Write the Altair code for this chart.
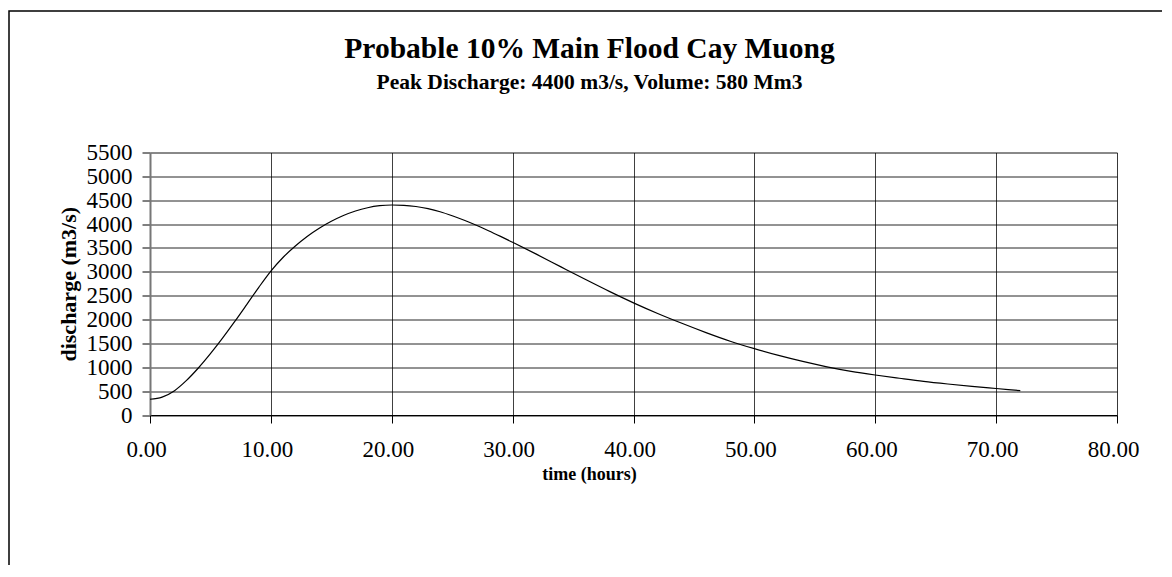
import altair as alt
import pandas as pd

hours = [0, 1, 2, 3, 4, 5, 6, 7, 8, 9, 10, 11, 12, 13, 14, 15, 16, 17, 18, 19, 20,
         21, 22, 23, 24, 25, 26, 27, 28, 29, 30, 32, 34, 36, 38, 40, 42, 44, 46, 48,
         50, 52, 54, 56, 58, 60, 62, 64, 66, 68, 70, 72]
discharge = [330, 375, 505, 720, 985, 1285, 1610, 1955, 2313, 2675, 3015, 3300, 3535,
             3740, 3912, 4058, 4180, 4275, 4343, 4385, 4400, 4393, 4368, 4323, 4259,
             4175, 4080, 3975, 3862, 3742, 3618, 3365, 3103, 2843, 2590, 2350, 2127,
             1921, 1726, 1545, 1390, 1248, 1122, 1010, 915, 838, 770, 705, 650, 600,
             555, 510]
x_ticks = [0, 10, 20, 30, 40, 50, 60, 70, 80]
y_ticks = [0, 500, 1000, 1500, 2000, 2500, 3000, 3500, 4000, 4500, 5000, 5500]

title_text = "Probable 10% Main Flood Cay Muong"
subtitle_text = "Peak Discharge: 4400 m3/s, Volume: 580 Mm3"

df = pd.DataFrame({"t": hours, "q": discharge})
FONT = "Liberation Serif"

line = alt.Chart(df).mark_line(color="black", strokeWidth=1.2, interpolate="monotone").encode(
    x=alt.X("t:Q", scale=alt.Scale(domain=[0, 80], nice=False),
            axis=alt.Axis(values=x_ticks, format=".2f", title="time (hours)",
                          labelFont=FONT, labelFontSize=23, labelColor="black",
                          labelPadding=15, labelOffset=-4, labelFlush=False,
                          labelOverlap=False,
                          titleFont=FONT, titleFontSize=18, titleFontWeight="bold",
                          titleColor="black", titlePadding=4, titleX=439,
                          tickSize=8, tickColor="black", domainColor="black",
                          gridColor="black", gridOpacity=0.75, gridWidth=1)),
    y=alt.Y("q:Q", scale=alt.Scale(domain=[0, 5500], nice=False),
            axis=alt.Axis(values=y_ticks, format="d", title="discharge (m3/s)",
                          labelFont=FONT, labelFontSize=23, labelColor="black",
                          labelPadding=10, labelFlush=False, labelOverlap=False,
                          titleFont=FONT, titleFontSize=22, titleFontWeight="bold",
                          titleColor="black", titlePadding=6,
                          tickSize=8, tickColor="black", domainColor="#777777",
                          domainWidth=2, gridColor="black", gridOpacity=0.85, gridWidth=1)),
)

frame = alt.Chart(pd.DataFrame({"a": [0]})).mark_rect(
    fill="white", fillOpacity=0, stroke="black", strokeWidth=1.5
).encode(
    x=alt.value(-141), x2=alt.value(1100), y=alt.value(-141.5), y2=alt.value(500)
)

chart = alt.layer(frame, line).properties(
    width=967,
    height=262.5,
    autosize=alt.AutoSizeParams(type="none"),
    padding={"left": 142, "top": 144.5, "right": 45, "bottom": 150},
    title=alt.TitleParams(
        text=title_text, subtitle=subtitle_text, anchor="middle", dx=-44,
        frame="group",
        font=FONT, fontSize=29.5, fontWeight="bold", color="black",
        subtitleFont=FONT, subtitleFontSize=21.5, subtitleFontWeight="bold",
        subtitleColor="black", subtitlePadding=7, offset=-84,
    ),
).configure_view(stroke=None).configure(background="white")

chart.save("out.html", embed_options={"renderer": "svg", "actions": False})
